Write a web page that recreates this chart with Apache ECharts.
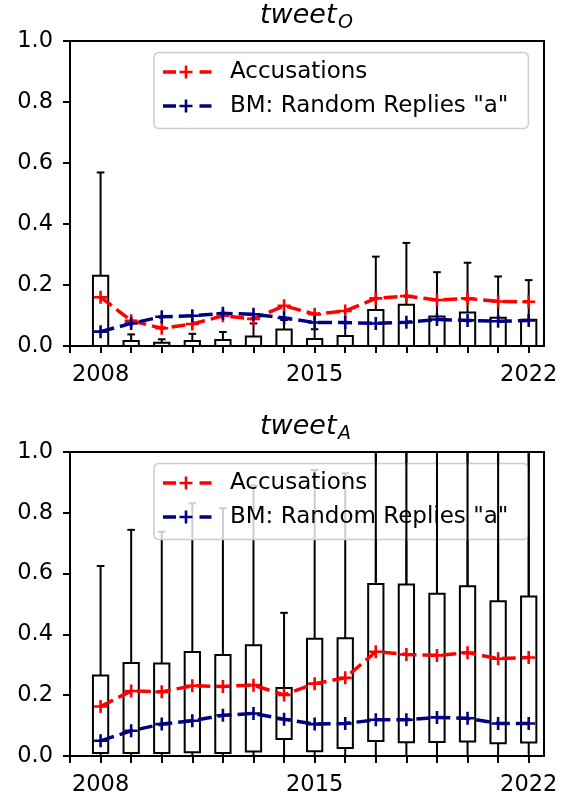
<!DOCTYPE html>
<html><head><meta charset="utf-8">
<script src="https://cdn.jsdelivr.net/npm/echarts@6/dist/echarts.min.js"></script>
<style>html,body{margin:0;padding:0;background:#fff}#c{width:564px;height:797px}</style>
</head><body><div id="c"></div>
<script>
// ---- data ----
const years = [2008,2009,2010,2011,2012,2013,2014,2015,2016,2017,2018,2019,2020,2021,2022];
const tickYears = [2007,2008,2009,2010,2011,2012,2013,2014,2015,2016,2017,2018,2019,2020,2021,2022];
const labelYears = [2008, 2015, 2022];
const seriesNames = ['Accusations', 'BM: Random Replies "a"'];

// tweet_O panel
const O_acc = [0.160,0.083,0.058,0.072,0.099,0.089,0.132,0.104,0.115,0.156,0.164,0.151,0.156,0.146,0.145];
const O_bm  = [0.047,0.074,0.096,0.099,0.107,0.104,0.092,0.077,0.077,0.074,0.078,0.087,0.084,0.081,0.084];
const O_lo  = [0,0,0,0,0,0,0,0,0,0,0,0,0,0,0];
const O_q1  = [0,0,0,0,0,0,0,0,0,0,0,0,0,0,0];
const O_q3  = [0.230,0.016,0.011,0.016,0.020,0.031,0.054,0.023,0.033,0.118,0.135,0.097,0.110,0.093,0.086];
const O_hi  = [0.569,0.038,0.022,0.040,0.046,0.074,0.085,0.055,0.075,0.293,0.338,0.242,0.273,0.228,0.216];

// tweet_A panel
const A_acc = [0.163,0.214,0.211,0.231,0.229,0.233,0.201,0.238,0.257,0.343,0.334,0.331,0.340,0.320,0.324];
const A_bm  = [0.050,0.083,0.105,0.116,0.134,0.140,0.121,0.105,0.107,0.119,0.119,0.127,0.124,0.107,0.107];
const A_lo  = [0,0,0,0,0,0,0,0,0,0,0,0,0,0,0];
const A_q1  = [0.010,0.010,0.010,0.012,0.010,0.015,0.056,0.016,0.026,0.049,0.045,0.046,0.048,0.042,0.044];
const A_q3  = [0.265,0.306,0.304,0.342,0.332,0.364,0.224,0.386,0.387,0.566,0.564,0.534,0.558,0.509,0.525];
const A_hi  = [0.625,0.744,0.738,0.831,0.815,0.890,0.471,0.941,0.930,1.0,1.0,1.0,1.0,1.0,1.0];

// ---- build ----
const FONT = '"DejaVu Sans", sans-serif';
const RED = '#ff0000', NAVY = '#000080';
const LW = 2;
const PLUS = 'path://M-1.3,-6.5L1.3,-6.5L1.3,-1.3L6.5,-1.3L6.5,1.3L1.3,1.3L1.3,6.5L-1.3,6.5L-1.3,1.3L-6.5,1.3L-6.5,-1.3L-1.3,-1.3Z';

function legendIcon(color){
  const svg = '<svg xmlns="http://www.w3.org/2000/svg" width="62" height="20" viewBox="0 0 62 20">' +
    '<path d="M0 10H13M36.5 10H48.5" stroke="' + color + '" stroke-width="3.5" fill="none"/>' +
    '<path d="M16.5 10H29.5M23 3.5V16.5" stroke="' + color + '" stroke-width="2.6" fill="none"/></svg>';
  return 'image://data:image/svg+xml;charset=utf-8,' + encodeURIComponent(svg);
}

function boxData(lo, q1, q3, hi, fromYear){
  const out = [];
  years.forEach((y, i) => { if (y >= fromYear) out.push([y, lo[i], q1[i], q3[i], hi[i]]); });
  return out;
}
function pairs(vals){ return years.map((y, i) => [y, vals[i]]); }

function boxRender(full){
  return function(params, api){
    const x = api.value(0), lo = api.value(1), q1 = api.value(2), q3 = api.value(3), hi = api.value(4);
    const c = (a, b) => api.coord([a, b]);
    const ls = {stroke:'#000', lineWidth:LW, fill:null};
    const ch = [];
    const line = (p, q) => ch.push({type:'line', shape:{x1:p[0], y1:p[1], x2:q[0], y2:q[1]}, style:ls});
    if (full){
      const tl = c(x - 0.25, q3), br = c(x + 0.25, q1);
      ch.push({type:'rect', shape:{x:tl[0], y:tl[1], width:br[0]-tl[0], height:br[1]-tl[1]},
               style:{fill:'none', stroke:'#000', lineWidth:LW}});
      line(c(x, q1), c(x, lo));
      line(c(x - 0.125, lo), c(x + 0.125, lo));
    }
    line(c(x, q3), c(x, hi));
    line(c(x - 0.125, hi), c(x + 0.125, hi));
    return {type:'group', children:ch};
  };
}

const gridTops = [41, 452];
const grids = gridTops.map(t => ({left:70, top:t, width:474, height:305, show:true,
  borderColor:'#000', borderWidth:LW, backgroundColor:'transparent'}));

const xAxes = [0, 1].map(i => ({
  type:'value', gridIndex:i, min:2007, max:2022.5,
  axisLine:{show:true, onZero:false, lineStyle:{color:'#000', width:LW}},
  axisTick:{show:true, customValues:tickYears, length:7, lineStyle:{color:'#000', width:LW}},
  axisLabel:{show:true, customValues:labelYears, fontSize:22.5, color:'#000', fontFamily:FONT, margin:18,
    formatter: v => String(v)},
  splitLine:{show:false}
}));
const yAxes = [0, 1].map(i => ({
  type:'value', gridIndex:i, min:0, max:1, interval:0.2,
  axisLine:{show:true, lineStyle:{color:'#000', width:LW}},
  axisTick:{show:true, length:7, lineStyle:{color:'#000', width:LW}},
  axisLabel:{fontSize:22.5, color:'#000', fontFamily:FONT, margin:17, formatter: v => v.toFixed(1)},
  splitLine:{show:false}
}));

function lineSeries(name, vals, color, gi){
  return {type:'line', name:name, xAxisIndex:gi, yAxisIndex:gi, data:pairs(vals), z:3,
    symbol:PLUS, symbolSize:13, showSymbol:true, animation:false,
    itemStyle:{color:color}, lineStyle:{color:color, width:3.5, type:[14, 6]}};
}
function customBox(data, gi, full, z){
  return {type:'custom', xAxisIndex:gi, yAxisIndex:gi, data:data, renderItem:boxRender(full),
    encode:{x:0, y:[1,2,3,4]}, clip:true, z:z, silent:true, animation:false};
}

const series = [
  customBox(boxData(O_lo, O_q1, O_q3, O_hi, 0), 0, true, 1),
  lineSeries(seriesNames[0], O_acc, RED, 0),
  lineSeries(seriesNames[1], O_bm, NAVY, 0),
  customBox(boxData(A_lo, A_q1, A_q3, A_hi, 0), 1, true, 1),
  customBox(boxData(A_lo, A_q1, A_q3, A_hi, 2017), 1, false, 6),
  lineSeries(seriesNames[0], A_acc, RED, 1),
  lineSeries(seriesNames[1], A_bm, NAVY, 1)
];

const legends = [52.5, 463.5].map(t => ({
  left:154, top:t, orient:'vertical', selectedMode:false,
  padding:[8, 20, 11, 9], itemGap:11, itemWidth:62, itemHeight:20,
  backgroundColor:'rgba(255,255,255,0.8)', borderColor:'#cccccc', borderWidth:1.5, borderRadius:5,
  textStyle:{fontSize:23, color:'#000', fontFamily:FONT},
  data:[{name:seriesNames[0], icon:legendIcon(RED)}, {name:seriesNames[1], icon:legendIcon(NAVY)}]
}));

function titleEls(baseY, sub){
  return [
    {type:'text', style:{text:'tweet', x:260, y:baseY - 9.5, font:'italic 27px ' + FONT, fill:'#000', verticalAlign:'middle', align:'left'}},
    {type:'text', style:{text:sub, x:338, y:baseY + 4 - 6.6, font:'italic 19px ' + FONT, fill:'#000', verticalAlign:'middle', align:'left'}}
  ];
}

const chart = echarts.init(document.getElementById('c'), null, {renderer:'canvas'});
chart.setOption({
  animation:false,
  grid:grids, xAxis:xAxes, yAxis:yAxes, legend:legends, series:series,
  graphic: titleEls(25.5, 'O').concat(titleEls(436.5, 'A'))
});
</script></body></html>
